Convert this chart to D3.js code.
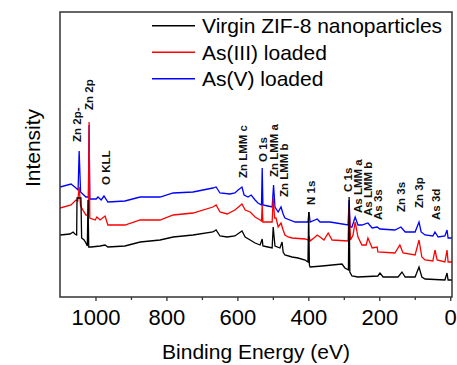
<!DOCTYPE html>
<html><head><meta charset="utf-8">
<script src="https://cdn.jsdelivr.net/npm/d3@7/dist/d3.min.js"></script>
<style>
body{margin:0;background:#fff;}
svg{display:block;font-family:Arial,"Liberation Sans",Helvetica,sans-serif;}
</style>
</head><body>
<svg id="chart" width="457" height="365"></svg>
<script>
// ---- data: [binding energy (eV), intensity (a.u.)] ----
const seriesNames = ["Virgin ZIF-8 nanoparticles", "As(III) loaded", "As(V) loaded"];
const seriesColors = ["#000000", "#ff0000", "#0000ff"];

const virgin = [[1100,62],[1072,63],[1063,65],[1058,63],[1053,62],[1052,99],[1041,99],[1039,59],[1032,57],[1027,54],[1023,51],[1021,97],[1019,50],[1012,50],[987,51],[973,52],[965,50],[917,51],[874,55],[818,57],[781,60],[725,62],[669,65],[660,67],[649,61],[629,60],[607,61],[587,66],[578,60],[564,57],[550,54],[536,52],[530,58],[528,51],[514,50],[502,49],[499,70],[494,51],[480,49],[474,55],[471,45],[466,42],[446,40],[429,39],[409,37],[401,35],[399,85],[397,32],[395,30],[361,31],[305,33],[297,29],[287,27],[285,100],[283,25],[277,21],[260,20],[204,21],[198,24],[189,20],[147,20],[136,25],[127,20],[99,20],[88,30],[80,20],[71,18],[15,17],[9,24],[6,17],[-5,17]];

const as3 = [[1100,89],[1069,92],[1055,97],[1050,96],[1046,110],[1042,91],[1027,82],[1020,82],[1018,175],[1016,79],[1001,77],[996,80],[987,77],[973,81],[965,72],[917,72],[874,77],[818,77],[781,82],[725,84],[669,90],[660,92],[649,85],[629,83],[607,87],[587,93],[578,87],[564,85],[550,80],[536,77],[532,76],[530,92],[528,75],[508,75],[502,75],[499,99],[495,79],[491,79],[485,70],[477,74],[471,67],[466,62],[457,60],[446,59],[409,58],[401,57],[398,61],[395,56],[381,60],[375,62],[367,60],[356,57],[344,64],[333,57],[288,56],[285,90],[281,57],[274,62],[268,75],[260,60],[249,52],[237,52],[232,59],[220,49],[206,50],[204,45],[156,44],[142,52],[133,44],[99,42],[88,57],[80,40],[71,37],[49,36],[43,47],[37,37],[15,35],[9,47],[6,35],[-5,35]];

const as5 = [[1100,110],[1069,113],[1055,109],[1049,107],[1046,146],[1042,105],[1027,100],[1020,100],[1018,172],[1016,98],[998,98],[993,100],[984,97],[976,101],[965,95],[917,96],[874,100],[818,100],[781,104],[725,105],[669,109],[660,110],[649,104],[621,103],[607,104],[598,107],[587,110],[581,102],[570,100],[561,102],[550,97],[542,94],[532,92],[530,129],[528,92],[514,91],[502,90],[498,112],[494,90],[485,85],[477,90],[471,83],[466,79],[437,75],[401,75],[398,85],[395,75],[375,78],[367,75],[339,75],[288,72],[285,97],[282,70],[277,70],[268,80],[260,72],[249,72],[232,74],[220,69],[206,70],[198,68],[156,67],[139,70],[127,65],[99,65],[88,75],[82,65],[71,62],[49,61],[43,65],[34,60],[15,61],[9,67],[6,59],[-5,59]];

const majorTicks = [1000, 800, 600, 400, 200, 0];
const minorTicks = [900, 700, 500, 300, 100];

const labelText   = ["Zn 2p-","Zn 2p","O KLL","Zn LMM c","O 1s","Zn LMM a","Zn LMM b","N 1s","C 1s","As LMM a","As LMM b","As 3s","Zn 3s","Zn 3p","As 3d"];
const labelEnergy = [1053,1019,970,585,529,497,468,392,289,261,233,205,139,88,40];
const labelLevel  = [155,187,112,119,135,120,100,92,105,84,81,77,85,89,77];

// ---- layout ----
const svg = d3.select("#chart");
const L = 60, R = 452, T = 12, B = 297;
const x = d3.scaleLinear().domain([1100, -5]).range([L, R]);
const y = d3.scaleLinear().domain([0, 285]).range([B, T]);

svg.append("defs").append("clipPath").attr("id","clip")
  .append("rect").attr("x",L).attr("y",T).attr("width",R-L).attr("height",B-T);

const line = d3.line().x(d => x(d[0])).y(d => y(d[1]));
const g = svg.append("g").attr("clip-path","url(#clip)");
const data = [virgin, as3, as5];
[2,1,0].forEach(i => {
  g.append("path").datum(data[i])
    .attr("fill","none").attr("stroke",seriesColors[i])
    .attr("stroke-width",1.3).attr("stroke-linejoin","miter")
    .attr("d", line);
});

// axes
const ax = svg.append("g").attr("transform",`translate(0,${B})`)
  .call(d3.axisBottom(x).tickValues(majorTicks).tickSize(4).tickPadding(8).tickFormat(d3.format("d")));
ax.select(".domain").remove();
ax.selectAll("line").attr("stroke","#333").attr("stroke-width",1.3);
ax.selectAll("text").attr("font-size",22).attr("fill","#000").attr("font-family","Arial, 'Liberation Sans', sans-serif");
const axm = svg.append("g").attr("transform",`translate(0,${B})`)
  .call(d3.axisBottom(x).tickValues(minorTicks).tickSize(3).tickFormat(""));
axm.select(".domain").remove();
axm.selectAll("line").attr("stroke","#333").attr("stroke-width",1.3);

// frame
svg.append("rect").attr("x",L).attr("y",T).attr("width",R-L).attr("height",B-T)
  .attr("fill","none").attr("stroke","#333").attr("stroke-width",1.5);

// axis titles
svg.append("text").attr("x",(L+R)/2).attr("y",359).attr("text-anchor","middle")
  .attr("font-size",21).text("Binding Energy (eV)");
svg.append("text").attr("transform","translate(40,148) rotate(-90)").attr("text-anchor","middle")
  .attr("font-size",21).text("Intensity");

// peak labels
labelText.forEach((t,i) => {
  svg.append("text")
    .attr("transform",`translate(${x(labelEnergy[i])+4},${y(labelLevel[i])}) rotate(-90)`)
    .attr("font-size",11.5).attr("font-weight","bold").attr("fill","#111")
    .text(t);
});

// legend
const legY = [25.7, 52.3, 78.7];
seriesNames.forEach((n,i) => {
  svg.append("line").attr("x1",152).attr("x2",195).attr("y1",legY[i]).attr("y2",legY[i])
    .attr("stroke",seriesColors[i]).attr("stroke-width",1.5);
  svg.append("text").attr("x",202).attr("y",legY[i]+7.5).attr("font-size",21).text(n);
});
</script>
</body></html>
